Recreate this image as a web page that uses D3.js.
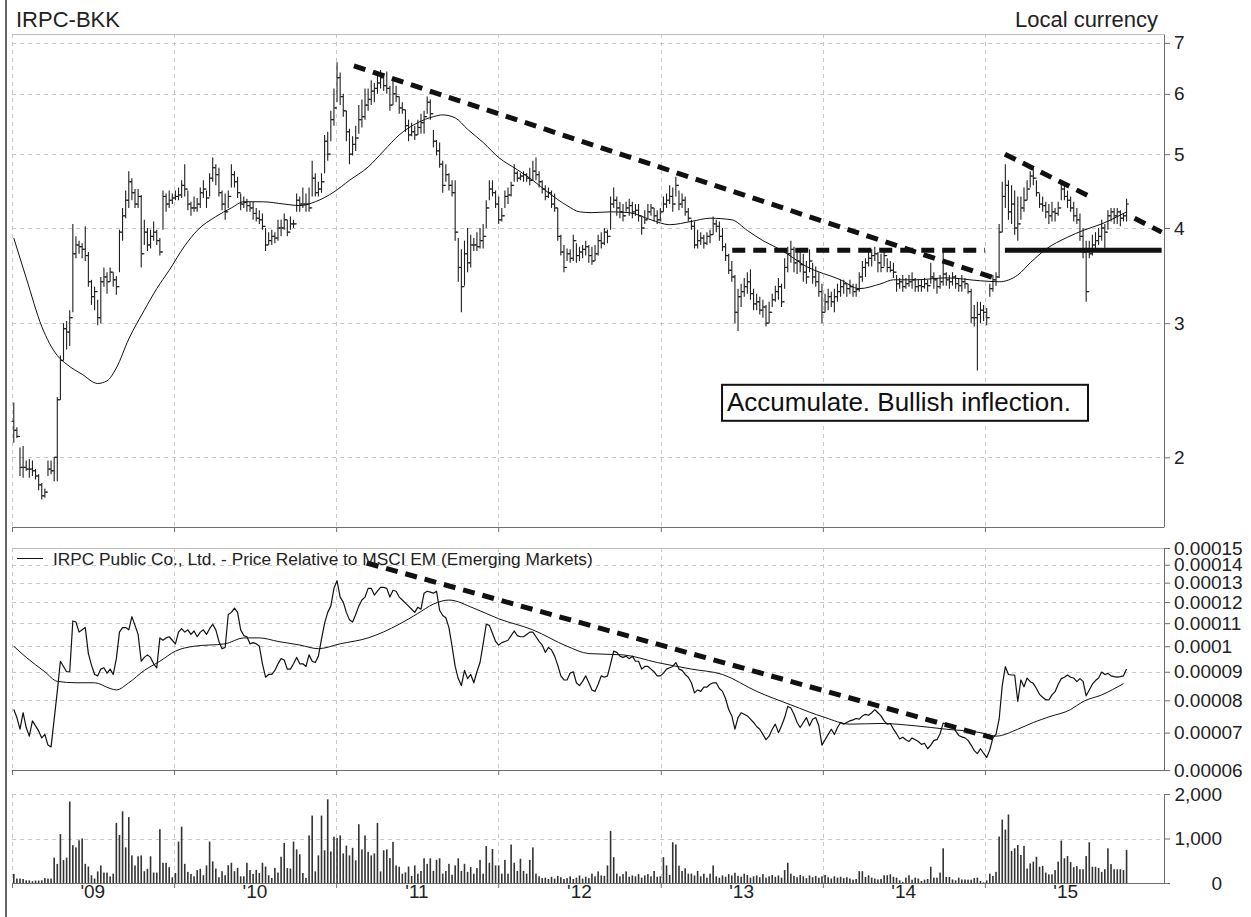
<!DOCTYPE html>
<html>
<head>
<meta charset="utf-8">
<script src="https://cdn.jsdelivr.net/npm/d3@7"></script>
<style>
  html, body { margin: 0; padding: 0; background: #fff; }
  svg { display: block; font-family: "Liberation Sans", Arial, Helvetica, sans-serif; }
</style>
</head>
<body>
<script>
// weekly bars, first week starting 2009-01-05
const firstWeek = Date.UTC(2009, 0, 5);
const firstOpen = 2.23;

const priceHigh = [
  2.36, 2.19, 2.06, 2.07, 1.98, 1.99, 1.98, 1.93, 1.90, 1.85,
  1.82, 1.98, 1.98, 2.00, 2.40, 2.72, 3.00, 3.02, 3.12, 4.05,
  3.90, 3.85, 3.82, 4.02, 3.72, 3.42, 3.35, 3.22, 3.45, 3.55,
  3.50, 3.55, 3.50, 3.46, 3.98, 4.25, 4.48, 4.75, 4.65, 4.50,
  4.50, 4.42, 4.10, 4.00, 3.98, 4.08, 3.98, 3.88, 4.48, 4.44,
  4.48, 4.44, 4.48, 4.52, 4.62, 4.85, 4.48, 4.33, 4.40, 4.38,
  4.52, 4.62, 4.48, 4.72, 4.95, 4.85, 4.80, 4.48, 4.44, 4.48,
  4.85, 4.75, 4.67, 4.44, 4.40, 4.37, 4.33, 4.33, 4.25, 4.22,
  4.18, 4.00, 3.95, 3.98, 3.95, 4.10, 4.10, 4.18, 4.10, 4.14,
  4.10, 4.44, 4.40, 4.52, 4.44, 4.52, 4.90, 4.72, 4.60, 4.72,
  5.30, 5.35, 5.70, 6.10, 6.60, 6.40, 6.00, 5.70, 5.40, 5.28,
  5.45, 5.80, 5.90, 6.10, 6.10, 6.25, 6.20, 6.40, 6.45, 6.35,
  6.42, 6.15, 6.25, 6.15, 5.95, 5.85, 5.72, 5.55, 5.50, 5.45,
  5.55, 5.65, 5.70, 5.95, 5.90, 5.38, 5.22, 5.18, 4.90, 4.85,
  4.72, 4.62, 4.62, 3.88, 3.75, 3.85, 4.00, 3.92, 3.88, 3.95,
  4.00, 4.05, 4.35, 4.62, 4.62, 4.48, 4.40, 4.25, 4.48, 4.52,
  4.60, 4.85, 4.75, 4.72, 4.75, 4.72, 4.80, 4.90, 4.95, 4.75,
  4.62, 4.55, 4.52, 4.48, 4.44, 4.25, 3.92, 3.80, 3.76, 3.75,
  3.92, 3.82, 3.78, 3.80, 3.85, 3.80, 3.78, 3.80, 3.92, 3.95,
  4.00, 3.98, 4.40, 4.52, 4.40, 4.33, 4.30, 4.33, 4.37, 4.33,
  4.30, 4.30, 4.14, 4.22, 4.30, 4.30, 4.25, 4.22, 4.25, 4.40,
  4.44, 4.55, 4.52, 4.67, 4.48, 4.44, 4.40, 4.25, 4.10, 4.08,
  3.98, 3.95, 3.92, 3.95, 3.98, 4.14, 4.10, 4.08, 4.00, 3.82,
  3.70, 3.62, 3.47, 3.33, 3.38, 3.44, 3.50, 3.53, 3.33, 3.28,
  3.25, 3.22, 3.17, 3.20, 3.28, 3.36, 3.44, 3.38, 3.65, 3.78,
  3.85, 3.78, 3.72, 3.75, 3.70, 3.62, 3.75, 3.60, 3.56, 3.50,
  3.38, 3.28, 3.33, 3.30, 3.33, 3.38, 3.42, 3.42, 3.38, 3.42,
  3.38, 3.38, 3.50, 3.62, 3.65, 3.72, 3.75, 3.78, 3.72, 3.70,
  3.75, 3.65, 3.62, 3.60, 3.47, 3.44, 3.47, 3.44, 3.47, 3.50,
  3.44, 3.42, 3.42, 3.44, 3.42, 3.60, 3.50, 3.44, 3.47, 3.76,
  3.50, 3.47, 3.50, 3.47, 3.44, 3.47, 3.44, 3.38, 3.33, 3.17,
  3.20, 3.20, 3.17, 3.14, 3.38, 3.47, 3.50, 4.05, 4.60, 4.85,
  4.62, 4.55, 4.48, 4.40, 4.40, 4.52, 4.62, 4.75, 4.82, 4.62,
  4.44, 4.40, 4.33, 4.30, 4.33, 4.25, 4.33, 4.60, 4.55, 4.48,
  4.40, 4.33, 4.25, 4.18, 4.00, 3.85, 3.85, 3.92, 3.95, 4.00,
  4.10, 4.05, 4.22, 4.25, 4.25, 4.25, 4.22, 4.18, 4.37
];

const priceLow = [
  2.09, 2.12, 1.89, 1.88, 1.92, 1.88, 1.89, 1.87, 1.81, 1.76,
  1.77, 1.89, 1.90, 1.86, 1.86, 2.38, 2.68, 2.77, 2.80, 3.10,
  3.65, 3.70, 3.65, 3.62, 3.35, 3.17, 3.12, 2.98, 3.00, 3.35,
  3.28, 3.40, 3.35, 3.27, 3.50, 3.85, 4.12, 4.25, 4.35, 4.25,
  4.25, 3.55, 3.80, 3.73, 3.76, 3.85, 3.80, 3.68, 3.98, 4.20,
  4.25, 4.30, 4.35, 4.35, 4.38, 4.40, 4.22, 4.15, 4.20, 4.20,
  4.25, 4.38, 4.25, 4.40, 4.60, 4.55, 4.40, 4.22, 4.10, 4.25,
  4.52, 4.52, 4.38, 4.22, 4.25, 4.20, 4.20, 4.10, 4.08, 4.05,
  3.98, 3.73, 3.80, 3.80, 3.82, 3.85, 3.90, 3.98, 3.90, 3.98,
  4.00, 4.20, 4.20, 4.25, 4.20, 4.20, 4.40, 4.40, 4.40, 4.45,
  4.72, 4.90, 5.20, 5.45, 5.85, 5.80, 5.60, 5.20, 4.85, 4.98,
  5.05, 5.32, 5.42, 5.55, 5.70, 5.80, 5.85, 6.00, 6.10, 6.05,
  6.00, 5.70, 5.80, 5.85, 5.65, 5.65, 5.35, 5.20, 5.28, 5.22,
  5.30, 5.32, 5.32, 5.65, 5.55, 5.10, 4.98, 4.80, 4.45, 4.60,
  4.48, 4.40, 3.85, 3.40, 3.10, 3.36, 3.50, 3.55, 3.73, 3.73,
  3.76, 3.76, 4.00, 4.35, 4.40, 4.25, 4.05, 4.08, 4.25, 4.30,
  4.40, 4.60, 4.60, 4.62, 4.60, 4.60, 4.55, 4.62, 4.62, 4.52,
  4.44, 4.35, 4.38, 4.25, 4.20, 3.85, 3.68, 3.50, 3.62, 3.60,
  3.62, 3.60, 3.62, 3.65, 3.68, 3.60, 3.58, 3.62, 3.68, 3.76,
  3.80, 3.82, 3.98, 4.25, 4.15, 4.12, 4.08, 4.20, 4.15, 4.12,
  4.15, 4.08, 3.92, 4.05, 4.12, 4.15, 4.08, 4.05, 4.08, 4.20,
  4.25, 4.30, 4.20, 4.40, 4.22, 4.25, 4.15, 4.08, 3.98, 3.76,
  3.76, 3.80, 3.76, 3.80, 3.82, 3.92, 3.95, 3.85, 3.73, 3.62,
  3.48, 3.40, 3.00, 2.93, 3.15, 3.25, 3.28, 3.22, 3.12, 3.12,
  3.08, 3.05, 2.97, 3.00, 3.15, 3.20, 3.22, 3.15, 3.33, 3.50,
  3.60, 3.50, 3.48, 3.50, 3.40, 3.38, 3.50, 3.38, 3.35, 3.25,
  3.00, 3.10, 3.12, 3.15, 3.10, 3.20, 3.25, 3.28, 3.25, 3.28,
  3.25, 3.25, 3.30, 3.40, 3.45, 3.56, 3.56, 3.62, 3.50, 3.50,
  3.56, 3.50, 3.50, 3.44, 3.30, 3.33, 3.30, 3.33, 3.35, 3.33,
  3.30, 3.30, 3.30, 3.33, 3.30, 3.38, 3.33, 3.28, 3.33, 3.36,
  3.36, 3.33, 3.36, 3.33, 3.30, 3.30, 3.33, 3.28, 3.00, 2.97,
  2.60, 3.00, 3.02, 2.98, 3.25, 3.30, 3.36, 3.44, 3.95, 4.25,
  4.10, 4.05, 3.92, 3.85, 4.10, 4.20, 4.35, 4.52, 4.55, 4.40,
  4.25, 4.20, 4.12, 4.05, 4.08, 4.08, 4.15, 4.35, 4.35, 4.25,
  4.20, 4.08, 4.05, 3.85, 3.65, 3.20, 3.65, 3.68, 3.76, 3.80,
  3.85, 3.72, 3.98, 4.08, 4.05, 4.05, 4.02, 4.08, 4.08
];

const priceClose = [
  2.17, 2.13, 1.94, 1.94, 1.93, 1.93, 1.92, 1.89, 1.84, 1.78,
  1.80, 1.93, 1.92, 2.00, 2.38, 2.68, 2.95, 2.92, 3.05, 3.70,
  3.80, 3.78, 3.75, 3.68, 3.40, 3.25, 3.30, 3.05, 3.40, 3.45,
  3.40, 3.50, 3.42, 3.35, 3.95, 4.15, 4.35, 4.60, 4.45, 4.30,
  4.40, 3.70, 3.95, 3.80, 3.90, 3.95, 3.85, 3.72, 4.40, 4.30,
  4.35, 4.38, 4.40, 4.42, 4.55, 4.50, 4.30, 4.25, 4.25, 4.30,
  4.45, 4.50, 4.38, 4.65, 4.80, 4.70, 4.45, 4.30, 4.20, 4.40,
  4.70, 4.60, 4.45, 4.30, 4.32, 4.28, 4.25, 4.18, 4.12, 4.10,
  4.02, 3.80, 3.85, 3.90, 3.88, 4.00, 4.00, 4.10, 3.95, 4.05,
  4.05, 4.35, 4.30, 4.30, 4.30, 4.25, 4.65, 4.45, 4.50, 4.60,
  5.20, 5.00, 5.55, 5.75, 6.30, 5.95, 5.70, 5.35, 5.00, 5.15,
  5.25, 5.55, 5.60, 5.80, 5.90, 6.05, 6.10, 6.20, 6.30, 6.15,
  6.10, 5.80, 6.00, 5.95, 5.75, 5.72, 5.45, 5.30, 5.35, 5.30,
  5.42, 5.50, 5.60, 5.85, 5.65, 5.20, 5.05, 4.85, 4.55, 4.70,
  4.55, 4.45, 3.95, 3.55, 3.35, 3.70, 3.60, 3.80, 3.80, 3.78,
  3.85, 3.90, 4.25, 4.50, 4.45, 4.30, 4.10, 4.15, 4.40, 4.42,
  4.55, 4.72, 4.65, 4.68, 4.70, 4.65, 4.62, 4.75, 4.70, 4.60,
  4.50, 4.40, 4.45, 4.30, 4.25, 3.90, 3.72, 3.55, 3.70, 3.65,
  3.85, 3.68, 3.72, 3.75, 3.78, 3.68, 3.62, 3.70, 3.85, 3.82,
  3.95, 3.90, 4.30, 4.35, 4.25, 4.20, 4.15, 4.25, 4.28, 4.20,
  4.22, 4.15, 4.00, 4.10, 4.20, 4.25, 4.15, 4.10, 4.20, 4.30,
  4.35, 4.40, 4.30, 4.55, 4.30, 4.35, 4.20, 4.12, 4.02, 3.80,
  3.85, 3.88, 3.82, 3.90, 3.92, 4.05, 4.02, 3.90, 3.78, 3.68,
  3.52, 3.45, 3.10, 3.25, 3.30, 3.35, 3.40, 3.28, 3.18, 3.20,
  3.12, 3.15, 3.00, 3.10, 3.22, 3.30, 3.35, 3.20, 3.55, 3.70,
  3.75, 3.60, 3.62, 3.58, 3.50, 3.45, 3.62, 3.45, 3.40, 3.30,
  3.10, 3.20, 3.25, 3.20, 3.25, 3.30, 3.35, 3.38, 3.33, 3.35,
  3.30, 3.32, 3.45, 3.55, 3.60, 3.65, 3.68, 3.70, 3.60, 3.55,
  3.68, 3.55, 3.52, 3.50, 3.38, 3.40, 3.35, 3.38, 3.40, 3.42,
  3.35, 3.36, 3.35, 3.38, 3.36, 3.45, 3.42, 3.35, 3.40, 3.48,
  3.42, 3.40, 3.45, 3.38, 3.36, 3.40, 3.38, 3.30, 3.05, 3.05,
  3.08, 3.12, 3.10, 3.05, 3.33, 3.42, 3.45, 3.95, 4.40, 4.55,
  4.20, 4.30, 4.00, 4.05, 4.25, 4.35, 4.50, 4.68, 4.65, 4.45,
  4.30, 4.28, 4.20, 4.15, 4.20, 4.18, 4.25, 4.50, 4.40, 4.35,
  4.25, 4.15, 4.10, 3.90, 3.72, 3.30, 3.70, 3.80, 3.85, 3.90,
  4.00, 3.95, 4.15, 4.20, 4.15, 4.20, 4.12, 4.15, 4.30
];

// 40-week average of price as [week, value]
const priceAvgPoints = [
  [0, 3.88], [4, 3.44], [9, 2.97], [14, 2.72], [17, 2.65], [22, 2.57], [27, 2.5], [30, 2.52],
  [33, 2.62], [37, 2.86], [42, 3.12], [46, 3.33], [50, 3.52], [55, 3.79], [59, 3.97], [65, 4.14],
  [70, 4.25], [74, 4.33], [80, 4.33], [87, 4.3], [92, 4.28], [97, 4.33], [103, 4.46], [108, 4.62],
  [114, 4.81], [119, 5.05], [124, 5.3], [130, 5.5], [135, 5.6], [138, 5.63], [142, 5.58], [146, 5.39],
  [151, 5.18], [156, 4.95], [162, 4.77], [167, 4.62], [172, 4.45], [178, 4.28], [182, 4.2], [186, 4.19],
  [192, 4.2], [198, 4.19], [205, 4.1], [211, 4.04], [218, 4.08], [224, 4.12], [231, 4.1], [236, 3.97],
  [241, 3.85], [247, 3.74], [255, 3.56], [266, 3.42], [272, 3.33], [279, 3.38], [283, 3.42], [290, 3.42],
  [300, 3.44], [311, 3.41], [317, 3.40], [323, 3.47], [327, 3.60], [332, 3.75], [339, 3.89], [344, 3.97],
  [350, 4.05], [358, 4.20]
];

// relative to MSCI EM, in units of 1e-5
const relValues = [
  7.7, 7.45, 7.1, 7.6, 7.15, 6.9, 7.35, 7.2, 7.05, 6.85,
  6.95, 6.65, 6.6, 7.4, 8.3, 9.4, 9.2, 9.0, 9.0, 11.1,
  11.05, 10.6, 10.7, 10.8, 9.7, 9.25, 8.9, 8.85, 9.1, 9.15,
  8.95, 9.1, 8.9, 9.5, 10.6, 10.8, 10.8, 10.7, 11.3, 10.9,
  10.5, 9.4, 9.55, 9.65, 9.55, 9.3, 9.15, 10.35, 10.25, 10.35,
  10.4, 10.25, 10.1, 10.6, 10.75, 10.6, 10.7, 10.5, 10.65, 10.4,
  10.6, 10.7, 10.5, 10.75, 10.95, 10.7, 10.2, 9.9, 9.95, 11.4,
  11.5, 11.7, 11.5, 10.7, 10.45, 10.4, 10.1, 10.15, 10.1, 10.0,
  9.3, 8.8, 8.9, 8.9, 9.05, 9.3, 9.5, 9.45, 9.1, 9.1,
  9.3, 9.55, 9.3, 9.3, 9.2, 9.65, 9.4, 9.35, 9.6, 10.3,
  11.0, 11.5, 11.8, 12.7, 13.1, 12.25, 12.0, 11.5, 11.15, 11.05,
  11.4, 11.8, 12.1, 12.25, 12.7, 12.7, 12.35, 12.55, 12.75, 12.75,
  12.7, 12.25, 12.6, 12.55, 12.25, 12.1, 11.95, 11.8, 11.65, 11.5,
  11.75, 11.65, 12.45, 12.55, 12.5, 12.45, 12.55, 11.6, 11.35, 11.25,
  10.8, 10.0, 9.2, 8.75, 8.5, 9.05, 8.75, 8.9, 8.6, 9.0,
  9.35, 10.1, 10.95, 10.9, 10.55, 10.2, 10.05, 10.15, 10.2, 10.25,
  10.45, 10.65, 10.45, 10.4, 10.4, 10.5, 10.6, 10.6, 10.4, 10.2,
  10.05, 9.75, 9.95, 9.85, 9.6, 9.25, 8.85, 8.7, 8.7, 8.95,
  9.0, 8.6, 8.5, 8.65, 8.85, 8.6, 8.35, 8.3, 8.55, 8.85,
  8.8, 8.85, 9.3, 9.8, 9.75, 9.6, 9.55, 9.6, 9.5, 9.6,
  9.4, 9.4, 9.1, 9.2, 9.2, 9.1, 9.0, 8.85, 8.85, 8.95,
  9.1, 9.15, 9.2, 9.35, 9.1, 9.05, 8.9, 8.8, 8.6, 8.25,
  8.35, 8.3, 8.45, 8.45, 8.55, 8.6, 8.6, 8.4, 8.3, 8.05,
  7.7, 7.5, 7.1, 7.45, 7.6, 7.55, 7.5, 7.4, 7.3, 7.18,
  7.1, 6.95, 6.8, 6.9, 7.1, 7.25, 7.0, 7.2, 7.45, 7.8,
  7.75, 7.55, 7.3, 7.15, 7.3, 7.45, 7.2, 7.4, 7.45, 7.2,
  6.65, 6.8, 6.95, 7.1, 6.95, 7.15, 7.3, 7.25, 7.3, 7.35,
  7.38, 7.42, 7.4, 7.5, 7.55, 7.52, 7.6, 7.7, 7.6, 7.5,
  7.35, 7.25, 7.27, 7.1, 6.97, 6.82, 6.87, 6.8, 6.75, 6.85,
  6.8, 6.75, 6.67, 6.7, 6.55, 6.65, 6.78, 6.8, 6.97, 7.28,
  7.25, 7.2, 7.2, 7.05, 6.92, 6.88, 6.85, 6.78, 6.65, 6.5,
  6.42, 6.55, 6.43, 6.32, 6.52, 6.85, 6.95, 7.4, 8.5, 9.19,
  8.9, 8.88, 8.88, 7.96, 8.7, 8.46, 8.77, 8.64, 8.58, 8.4,
  8.2, 8.1, 8.02, 8.01, 8.18, 8.29, 8.55, 8.75, 8.8, 8.88,
  8.8, 8.77, 8.64, 8.75, 8.65, 8.15, 8.35, 8.55, 8.68, 8.77,
  8.99, 8.9, 8.94, 8.85, 8.82, 8.8, 8.82, 8.85, 9.1
];

const relAvgPoints = [
  [0, 10.0], [4, 9.55], [10, 9.0], [14, 8.65], [20, 8.6], [26, 8.6], [31, 8.4], [33, 8.35],
  [37, 8.6], [42, 9.05], [47, 9.4], [52, 9.8], [58, 10.0], [68, 10.1], [74, 10.35], [79, 10.35],
  [85, 10.2], [92, 10.05], [98, 9.9], [105, 10.1], [114, 10.35], [124, 10.95], [130, 11.45], [135, 11.9],
  [140, 12.1], [148, 11.7], [156, 11.2], [167, 10.7], [178, 10.0], [185, 9.7], [196, 9.65], [207, 9.35],
  [218, 9.1], [228, 8.9], [239, 8.3], [250, 7.85], [261, 7.45], [269, 7.25], [279, 7.27], [290, 7.2],
  [300, 7.1], [311, 7.0], [316, 6.9], [323, 7.1], [328, 7.3], [333, 7.47], [340, 7.7], [344, 7.96],
  [350, 8.18], [357, 8.57]
];

// weekly volume (thousands)
const volume = [
  205, 100, 100, 90, 60, 60, 40, 55, 55, 60,
  110, 100, 100, 570, 430, 1100, 515, 570, 1830, 850,
  800, 960, 1000, 430, 370, 175, 100, 260, 395, 235,
  235, 150, 210, 1350, 1080, 1610, 800, 1480, 620, 395,
  600, 620, 265, 320, 600, 235, 235, 1210, 455, 455,
  355, 130, 225, 930, 1265, 430, 250, 205, 150, 290,
  320, 175, 395, 930, 485, 325, 130, 265, 175, 400,
  455, 265, 340, 150, 150, 455, 290, 205, 295, 225,
  455, 370, 175, 115, 340, 235, 590, 900, 335, 325,
  930, 755, 645, 225, 115, 1070, 1515, 260, 620, 1515,
  735, 1880, 710, 1040, 1010, 1070, 665, 840, 620, 790,
  510, 1320, 755, 1070, 700, 620, 665, 1350, 260, 735,
  755, 560, 925, 395, 365, 210, 240, 370, 160, 395,
  210, 270, 555, 430, 555, 270, 520, 555, 210, 270,
  430, 185, 395, 555, 270, 430, 250, 360, 210, 335,
  520, 210, 830, 455, 765, 395, 395, 210, 520, 210,
  865, 455, 270, 545, 270, 210, 520, 800, 210, 150,
  110, 120, 90, 140, 100, 160, 130, 90, 110, 150,
  90, 120, 170, 100, 140, 110, 210, 150, 260, 170,
  160, 395, 1170, 580, 210, 150, 200, 260, 140, 170,
  150, 200, 120, 170, 200, 150, 270, 140, 150, 580,
  395, 180, 915, 865, 390, 270, 330, 210, 210, 170,
  270, 150, 210, 120, 210, 395, 150, 120, 170, 140,
  200, 170, 230, 160, 140, 210, 180, 120, 150, 170,
  130, 200, 120, 150, 180, 140, 170, 120, 290, 455,
  210, 160, 130, 180, 150, 110, 170, 130, 160, 120,
  150, 180, 130, 100, 150, 120, 140, 110, 130, 100,
  75, 90, 265, 265, 135, 175, 120, 100, 80, 90,
  175, 175, 195, 140, 120, 60, 25, 120, 175, 75,
  120, 100, 45, 75, 90, 365, 120, 120, 235, 780,
  135, 135, 80, 60, 120, 80, 80, 75, 75, 110,
  120, 45, 15, 60, 210, 160, 250, 1045, 1425, 1200,
  1540, 720, 780, 855, 630, 835, 325, 440, 480, 590,
  365, 385, 235, 195, 195, 290, 480, 955, 555, 605,
  470, 355, 380, 310, 310, 605, 915, 365, 365, 340,
  250, 310, 780, 425, 310, 310, 310, 290, 745
];

const priceTicks = [2, 3, 4, 5, 6, 7];
const relTicks = [6, 7, 8, 9, 10, 11, 12, 13, 14, 15];
const relTickLabels = ["0.00006", "0.00007", "0.00008", "0.00009", "0.0001",
  "0.00011", "0.00012", "0.00013", "0.00014", "0.00015"];
const volTicks = [0, 1000, 2000];
const volTickLabels = ["0", "1,000", "2,000"];
const yearLabels = ["'09", "'10", "'11", "'12", "'13", "'14", "'15"];

// drawn annotations: [date, value]
const priceTrends = [
  { from: ["2011-02-10", 6.53], to: ["2015-01-28", 3.43], dash: "12,8" },
  { from: ["2015-02-15", 5.0], to: ["2015-08-25", 4.40], dash: "12,8" },
  { from: ["2015-12-04", 4.12], to: ["2016-02-03", 3.95], dash: "12,8" },
  { from: ["2013-06-11", 3.74], to: ["2015-01-01", 3.74], dash: "13,8" },
  { from: ["2015-02-15", 3.74], to: ["2016-02-03", 3.74], dash: null }
];
const relTrend = { from: ["2011-03-11", 14.1], to: ["2015-01-19", 6.85] };
const noteText = "Accumulate. Bullish inflection.";
const noteAnchor = ["2013-05-19", 2.49];

// ---------------------------------------------------------------
const W = 1251, H = 917;
const left = 12, right = 1164;
const parse = d3.utcParse("%Y-%m-%d");
const weekDate = (i) => new Date(firstWeek + i * 7 * 864e5);

const svg = d3.select("body").append("svg")
  .attr("width", W)
  .attr("height", H);

const x = d3.scaleUtc()
  .domain([new Date(Date.UTC(2009, 0, 1)), new Date(Date.UTC(2016, 0, 1))])
  .range([12, 1147]);

const yPrice = d3.scaleLog().domain([1.62, 7.19]).range([527, 34]);
const yRel = d3.scaleLog().domain([6, 15]).range([770, 548]);
const yVol = d3.scaleLinear().domain([0, 2000]).range([883, 794]);

const years = d3.range(2009, 2016).map((y) => new Date(Date.UTC(y, 0, 1)));

const panels = [
  { top: 34, bottom: 527, scale: yPrice, ticks: priceTicks },
  { top: 548, bottom: 770, scale: yRel, ticks: relTicks },
  { top: 794, bottom: 883, scale: yVol, ticks: [1000, 2000] }
];

const gridColor = "#c8c8c8";
const axisColor = "#6e6e6e";

// outer left rule
svg.append("line")
  .attr("x1", 6).attr("x2", 6).attr("y1", 0).attr("y2", H)
  .attr("stroke", "#333").attr("stroke-width", 1.5);

panels.forEach((p) => {
  const g = svg.append("g");
  // horizontal grid
  g.selectAll("line.h")
    .data(p.ticks)
    .enter()
    .append("line")
    .attr("x1", left).attr("x2", right)
    .attr("y1", (d) => Math.round(p.scale(d)) + 0.5)
    .attr("y2", (d) => Math.round(p.scale(d)) + 0.5)
    .attr("stroke", gridColor)
    .attr("stroke-dasharray", "4,4");
  // vertical grid at years
  g.selectAll("line.v")
    .data(years)
    .enter()
    .append("line")
    .attr("x1", (d) => Math.round(x(d)) + 0.5)
    .attr("x2", (d) => Math.round(x(d)) + 0.5)
    .attr("y1", p.top).attr("y2", p.bottom)
    .attr("stroke", gridColor)
    .attr("stroke-dasharray", "4,4");
  // top border (price and relative panels)
  if (p.top !== 794) {
    g.append("line")
      .attr("x1", left).attr("x2", right)
      .attr("y1", p.top + 0.5).attr("y2", p.top + 0.5)
      .attr("stroke", "#bdbdbd");
  }
  // bottom axis line with year ticks
  g.append("line")
    .attr("x1", left).attr("x2", right)
    .attr("y1", p.bottom + 0.5).attr("y2", p.bottom + 0.5)
    .attr("stroke", axisColor);
  const bx = d3.axisBottom(x).tickValues(years).tickFormat("").tickSize(5).tickSizeOuter(0);
  const bg = g.append("g").attr("transform", "translate(0," + p.bottom + ")").call(bx);
  bg.select(".domain").remove();
  bg.selectAll(".tick line").attr("stroke", axisColor);
});

// right axes
function styleAxis(g) {
  g.attr("font-family", null).attr("font-size", 19);
  g.select(".domain").attr("stroke", axisColor);
  g.selectAll(".tick line").attr("stroke", axisColor);
  g.selectAll(".tick text").attr("fill", "#222");
}

svg.append("g")
  .attr("transform", "translate(" + right + ",0)")
  .call(d3.axisRight(yPrice).tickValues(priceTicks).tickFormat(d3.format("d"))
    .tickSize(6).tickSizeOuter(0).tickPadding(4))
  .call(styleAxis);

svg.append("g")
  .attr("transform", "translate(" + right + ",0)")
  .call(d3.axisRight(yRel).tickValues(relTicks)
    .tickFormat((d, i) => relTickLabels[i])
    .tickSize(6).tickSizeOuter(0).tickPadding(4))
  .call(styleAxis);

svg.append("g")
  .attr("transform", "translate(" + right + ",0)")
  .call(d3.axisRight(yVol).tickValues(volTicks)
    .tickFormat((d, i) => volTickLabels[i])
    .tickSize(6).tickSizeOuter(0))
  .call(styleAxis)
  .call((g) => g.selectAll(".tick text").attr("text-anchor", "end").attr("x", 58));

// year labels
svg.append("g")
  .selectAll("text")
  .data(years)
  .enter()
  .append("text")
  .attr("x", (d) => x(new Date(Date.UTC(d.getUTCFullYear(), 6, 2))))
  .attr("y", 898)
  .attr("text-anchor", "middle")
  .attr("font-size", 19)
  .attr("fill", "#222")
  .text((d, i) => yearLabels[i]);

// titles
svg.append("text").attr("x", 16).attr("y", 27).attr("font-size", 22).attr("fill", "#222").text("IRPC-BKK");
svg.append("text").attr("x", 1158).attr("y", 27).attr("font-size", 22).attr("fill", "#222")
  .attr("text-anchor", "end").text("Local currency");

// OHLC bars
const bars = svg.append("g")
  .attr("stroke", "#1e1e1e")
  .attr("stroke-width", 1.1);

priceClose.forEach((c, i) => {
  const xi = x(weekDate(i));
  const o = i === 0 ? firstOpen : priceClose[i - 1]; // opening tick at prior week's close
  bars.append("line")
    .attr("x1", xi).attr("x2", xi)
    .attr("y1", yPrice(priceHigh[i])).attr("y2", yPrice(priceLow[i]));
  bars.append("line")
    .attr("x1", xi - 2.2).attr("x2", xi)
    .attr("y1", yPrice(o)).attr("y2", yPrice(o));
  bars.append("line")
    .attr("x1", xi).attr("x2", xi + 2.2)
    .attr("y1", yPrice(c)).attr("y2", yPrice(c));
});

// price moving average
svg.append("path")
  .datum(priceAvgPoints)
  .attr("fill", "none")
  .attr("stroke", "#111")
  .attr("stroke-width", 1)
  .attr("d", d3.line().curve(d3.curveMonotoneX)
    .x((d) => x(weekDate(d[0])))
    .y((d) => yPrice(d[1])));

// price trend annotations
svg.append("g")
  .selectAll("line")
  .data(priceTrends)
  .enter()
  .append("line")
  .attr("x1", (d) => x(parse(d.from[0])))
  .attr("y1", (d) => yPrice(d.from[1]))
  .attr("x2", (d) => x(parse(d.to[0])))
  .attr("y2", (d) => yPrice(d.to[1]))
  .attr("stroke", "#111")
  .attr("stroke-width", 5)
  .attr("stroke-dasharray", (d) => d.dash);

// note box
const noteG = svg.append("g");
const nx = x(parse(noteAnchor[0]));
const ny = yPrice(noteAnchor[1]);
const noteRect = noteG.append("rect")
  .attr("x", nx).attr("y", ny)
  .attr("height", 36)
  .attr("fill", "#fff")
  .attr("stroke", "#111")
  .attr("stroke-width", 2);
const noteLabel = noteG.append("text")
  .attr("x", nx + 5).attr("y", ny + 26)
  .attr("font-size", 26)
  .attr("fill", "#111")
  .text(noteText);
noteRect.attr("width", noteLabel.node().getComputedTextLength() + 22);

// relative line and its average
svg.append("path")
  .datum(relAvgPoints)
  .attr("fill", "none")
  .attr("stroke", "#111")
  .attr("stroke-width", 1)
  .attr("d", d3.line().curve(d3.curveMonotoneX)
    .x((d) => x(weekDate(d[0])))
    .y((d) => yRel(d[1])));

svg.append("path")
  .datum(relValues)
  .attr("fill", "none")
  .attr("stroke", "#111")
  .attr("stroke-width", 1.2)
  .attr("stroke-linejoin", "round")
  .attr("d", d3.line()
    .x((d, i) => x(weekDate(i)))
    .y((d) => yRel(d)));

svg.append("line")
  .attr("x1", x(parse(relTrend.from[0])))
  .attr("y1", yRel(relTrend.from[1]))
  .attr("x2", x(parse(relTrend.to[0])))
  .attr("y2", yRel(relTrend.to[1]))
  .attr("stroke", "#111")
  .attr("stroke-width", 5)
  .attr("stroke-dasharray", "12,8");

// legend
svg.append("line")
  .attr("x1", 17).attr("x2", 43).attr("y1", 558.5).attr("y2", 558.5)
  .attr("stroke", "#111");
svg.append("text")
  .attr("x", 53).attr("y", 565)
  .attr("font-size", 17.3)
  .attr("fill", "#222")
  .text("IRPC Public Co., Ltd. - Price Relative to MSCI EM (Emerging Markets)");

// volume bars
svg.append("g")
  .selectAll("rect")
  .data(volume)
  .enter()
  .append("rect")
  .attr("x", (d, i) => x(weekDate(i)) - 0.8)
  .attr("width", 1.6)
  .attr("y", (d) => yVol(d))
  .attr("height", (d) => yVol(0) - yVol(d))
  .attr("fill", "#333");
</script>
</body>
</html>
